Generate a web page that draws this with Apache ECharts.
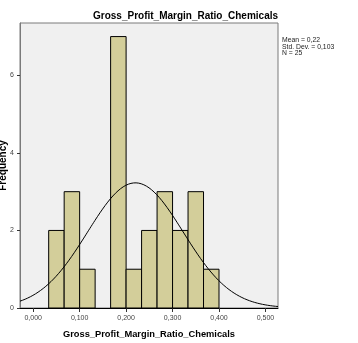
<!DOCTYPE html>
<html>
<head>
<meta charset="utf-8">
<script src="https://cdn.jsdelivr.net/npm/echarts@6/dist/echarts.min.js"></script>
<style>
  html, body { margin: 0; padding: 0; background: #fff; }
  #chart { width: 358px; height: 343px; }
</style>
</head>
<body>
<div id="chart"></div>
<script>
// Histogram bins (lower edge, upper edge) and counts
const binStarts = [1/30, 2/30, 3/30, 4/30, 5/30, 6/30, 7/30, 8/30, 9/30, 10/30, 11/30];
const binWidth = 1 / 30;
const counts = [2, 3, 1, 0, 7, 1, 2, 3, 2, 3, 1];

// Summary statistics shown beside the plot
const statMean = 0.22;
const statSd = 0.103;
const statN = 25;

// Axis ticks
const xTicks = [0, 0.1, 0.2, 0.3, 0.4, 0.5];
const yTicks = [0, 2, 4, 6];
const xMin = -0.0284, xMax = 0.527, yMax = 7.35;

const bins = binStarts.map((s, i) => [s, s + binWidth, counts[i]]);

// Fitted normal curve scaled to counts
const curve = [];
const steps = 200;
const peak = statN * binWidth / (statSd * Math.sqrt(2 * Math.PI));
for (let i = 0; i <= steps; i++) {
  const x = xMin + (xMax - xMin) * i / steps;
  const z = (x - statMean) / statSd;
  curve.push([x, peak * Math.exp(-0.5 * z * z)]);
}

const fmt = v => v.toFixed(3).replace('.', ',');
const font = 'Arial, "Liberation Sans", sans-serif';

const chart = echarts.init(document.getElementById('chart'));
chart.setOption({
  animation: false,
  title: {
    text: 'Gross_Profit_Margin_Ratio_Chemicals',
    left: 88,
    top: 6,
    textStyle: { fontFamily: font, fontSize: 10, fontWeight: 'bold', color: '#000' }
  },
  grid: {
    left: 20, right: 80, top: 23, bottom: 35,
    containLabel: false, outerBoundsMode: 'none',
    show: true, backgroundColor: '#F0F0F0', borderColor: '#7a7a7a', borderWidth: 1
  },
  xAxis: {
    type: 'value', min: xMin, max: xMax,
    name: 'Gross_Profit_Margin_Ratio_Chemicals',
    nameLocation: 'middle', nameGap: 22, nameMoveOverlap: false,
    nameTextStyle: { fontFamily: font, fontSize: 9.3, fontWeight: 'bold', color: '#000' },
    splitLine: { show: false },
    axisLine: { show: true, onZero: false, lineStyle: { color: '#000', width: 1 } },
    axisTick: { show: true, length: 4, customValues: xTicks, lineStyle: { color: '#333' } },
    axisLabel: {
      customValues: xTicks, formatter: fmt, margin: 7,
      fontFamily: font, fontSize: 7, color: '#444'
    }
  },
  yAxis: {
    type: 'value', min: 0, max: yMax,
    name: 'Frequency',
    nameLocation: 'middle', nameGap: 12, nameRotate: 90, nameMoveOverlap: false,
    nameTextStyle: { fontFamily: font, fontSize: 10, fontWeight: 'bold', color: '#000' },
    splitLine: { show: false },
    axisLine: { show: true, onZero: false, lineStyle: { color: '#7a7a7a', width: 1 } },
    axisTick: { show: true, length: 3, customValues: yTicks, lineStyle: { color: '#333' } },
    axisLabel: {
      customValues: yTicks, margin: 6,
      fontFamily: font, fontSize: 7, color: '#444'
    }
  },
  series: [
    {
      type: 'custom',
      data: bins,
      renderItem: (params, api) => {
        const p0 = api.coord([api.value(0), api.value(2)]);
        const p1 = api.coord([api.value(1), 0]);
        if (api.value(2) <= 0) return null;
        return {
          type: 'rect',
          shape: { x: p0[0], y: p0[1], width: p1[0] - p0[0], height: p1[1] - p0[1] },
          style: { fill: '#D3CE9A', stroke: '#000', lineWidth: 1 }
        };
      },
      z: 2
    },
    {
      type: 'line',
      data: curve,
      showSymbol: false,
      smooth: false,
      lineStyle: { color: '#000', width: 1 },
      z: 3
    }
  ],
  graphic: [
    {
      type: 'text', left: 282, top: 37,
      style: {
        text: 'Mean = 0,22\nStd. Dev. = 0,103\nN = 25',
        font: '6.8px ' + font, fill: '#222', lineHeight: 6.5
      }
    }
  ]
});
</script>
</body>
</html>
